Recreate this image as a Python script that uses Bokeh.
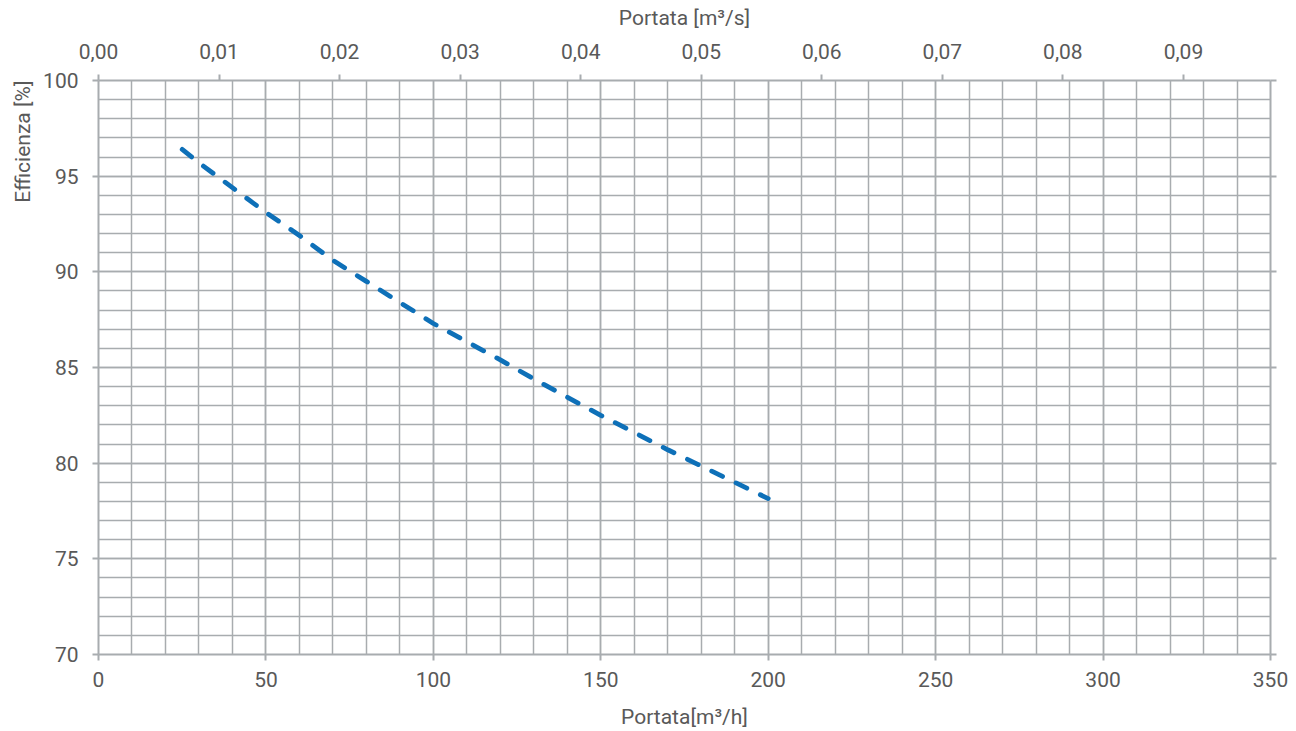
from bokeh.plotting import figure
from bokeh.models import LinearAxis, Range1d, FixedTicker, CustomJSTickFormatter, Title
from bokeh.embed import file_html
from bokeh.resources import INLINE

# ---- data ----
flow_m3h = [25, 30, 40, 50, 60, 70, 80, 90, 100, 110, 120, 130, 140, 150, 160, 170, 180, 190, 200]
efficiency = [96.4, 95.7, 94.4, 93.1, 91.9, 90.6, 89.5, 88.4, 87.3, 86.35, 85.4, 84.4,
              83.45, 82.5, 81.6, 80.7, 79.85, 79.0, 78.15]

x_major_ticks = [0, 50, 100, 150, 200, 250, 300, 350]
x_minor_ticks = [0, 10, 20, 30, 40, 50, 60, 70, 80, 90, 100, 110, 120, 130, 140, 150, 160, 170,
                 180, 190, 200, 210, 220, 230, 240, 250, 260, 270, 280, 290, 300, 310, 320, 330, 340, 350]
y_major_ticks = [70, 75, 80, 85, 90, 95, 100]
y_minor_ticks = [70, 71, 72, 73, 74, 75, 76, 77, 78, 79, 80, 81, 82, 83, 84, 85, 86, 87, 88, 89,
                 90, 91, 92, 93, 94, 95, 96, 97, 98, 99, 100]
top_ticks = [0.00, 0.01, 0.02, 0.03, 0.04, 0.05, 0.06, 0.07, 0.08, 0.09]

x_title = "Portata[m³/h]"
top_title = "Portata [m³/s]"
y_title = "Efficienza [%]"

X_MAX = 350
TOP_MAX = 350 / 3600.0

FONT = "Roboto"
TXT = "#595959"
GRID = "#a8acaf"
LINE = "#0E70B8"

p = figure(width=1296, height=731, output_backend="svg", toolbar_location=None,
           x_range=Range1d(0, X_MAX), y_range=Range1d(70, 100),
           x_axis_location=None, y_axis_location=None,
           min_border_left=98, min_border_right=26, min_border_top=80, min_border_bottom=76)
p.outline_line_color = None
p.background_fill_color = "white"
p.border_fill_color = "white"
p.extra_x_ranges = {"q": Range1d(0, TOP_MAX)}

def style(ax):
    ax.axis_line_color = GRID
    ax.axis_line_width = 2
    ax.major_tick_line_color = GRID
    ax.major_tick_line_width = 2
    ax.major_tick_out = 6
    ax.major_tick_in = 0
    ax.minor_tick_out = 0
    ax.minor_tick_in = 0
    ax.minor_tick_line_color = None
    ax.major_label_text_font = FONT
    ax.major_label_text_font_size = "21px"
    ax.major_label_text_color = TXT
    ax.axis_label_text_font = FONT
    ax.axis_label_text_font_size = "21px"
    ax.axis_label_text_font_style = "normal"
    ax.axis_label_text_color = TXT

xb = LinearAxis(ticker=FixedTicker(ticks=x_major_ticks, minor_ticks=x_minor_ticks),
                axis_label=x_title)
style(xb)
xb.major_label_standoff = 11
xb.axis_label_standoff = 15
p.add_layout(xb, "below")

yl = LinearAxis(ticker=FixedTicker(ticks=y_major_ticks, minor_ticks=y_minor_ticks))
style(yl)
yl.major_label_standoff = 14
p.add_layout(yl, "left")

xt = LinearAxis(x_range_name="q", ticker=FixedTicker(ticks=top_ticks), axis_label=top_title,
                formatter=CustomJSTickFormatter(code="return tick.toFixed(2).replace('.', ',');"))
style(xt)
xt.major_label_standoff = 16
xt.axis_label_standoff = 11
p.add_layout(xt, "above")

yr = LinearAxis(ticker=FixedTicker(ticks=y_major_ticks),
                formatter=CustomJSTickFormatter(code="return '';"))
style(yr)
yr.major_label_standoff = 0
p.add_layout(yr, "right")

# y-axis title, aligned to the top of the plot area as in the reference
p.add_layout(Title(text=y_title, align="right", text_font=FONT, text_font_size="21px",
                   text_font_style="normal", text_color=TXT, standoff=12), "left")

p.xgrid.ticker = xb.ticker
p.ygrid.ticker = yl.ticker
for g in (p.xgrid, p.ygrid):
    g.grid_line_color = GRID
    g.grid_line_width = 1.5
    g.minor_grid_line_color = GRID
    g.minor_grid_line_width = 1.5

p.line(flow_m3h, efficiency, line_color=LINE, line_width=4.8, line_dash="12 15",
       line_cap="round")

open("out.html", "w").write(file_html(p, INLINE))
